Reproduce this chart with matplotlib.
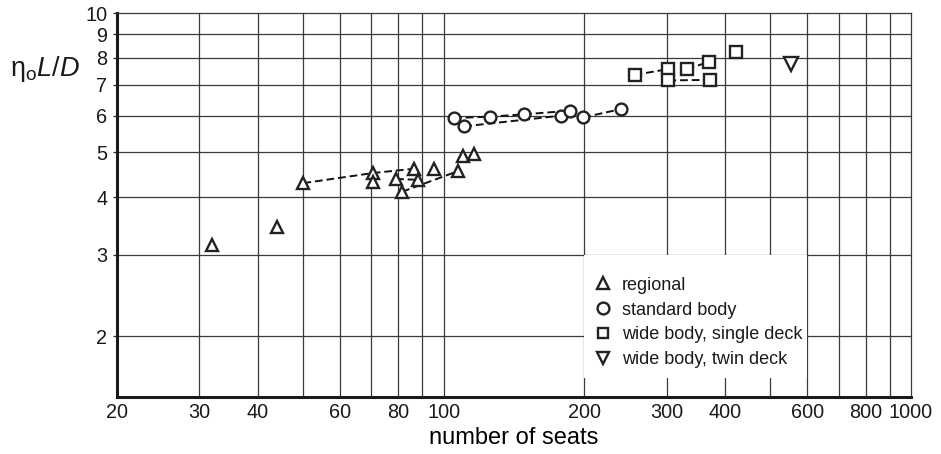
import matplotlib
matplotlib.use("Agg")
import matplotlib.pyplot as plt
from matplotlib.lines import Line2D
from matplotlib.patches import Rectangle
from matplotlib.ticker import FixedLocator, FixedFormatter, NullFormatter, NullLocator

matplotlib.rcParams.update({
    "font.family": "Liberation Sans",
    "mathtext.fontset": "custom",
    "mathtext.rm": "Liberation Sans",
    "mathtext.it": "Liberation Sans:italic",
    "text.color": "#1a1a1a",
})

# ─── data ─────────────────────────────────────────────────────────────────────
regional_seats = [31.9, 43.9, 50.1, 70.6, 70.6, 79.1, 81.5, 86.6, 88.0, 95.4, 107.1, 110.0, 116.1]
regional_ld    = [3.15, 3.45, 4.29, 4.51, 4.32, 4.38, 4.11, 4.61, 4.36, 4.61, 4.55, 4.90, 4.97]
regional_links = [[2, 3, 7], [5, 8], [6, 10]]

standard_seats = [105.3, 110.7, 125.8, 148.7, 178.3, 186.2, 199.0, 239.7]
standard_ld    = [5.93, 5.69, 5.97, 6.04, 6.00, 6.15, 5.95, 6.20]
standard_links = [[0, 2, 3, 5], [1, 4], [6, 7]]

single_seats = [256.1, 301.4, 302.6, 331.5, 370.3, 370.9, 422.9]
single_ld    = [7.35, 7.56, 7.15, 7.56, 7.85, 7.17, 8.25]
single_links = [[0, 1], [3, 4], [2, 5]]

twin_seats = [553.3]
twin_ld    = [7.76]

x_ticks = [20, 30, 40, 60, 80, 100, 200, 300, 400, 600, 800, 1000]
x_grid  = [30, 40, 50, 60, 70, 80, 90, 100, 200, 300, 400, 500, 600, 700, 800, 900]
y_ticks = [2, 3, 4, 5, 6, 7, 8, 9, 10]

EDGE = "#222222"
GRID = "#3a3a3a"

fig = plt.figure(figsize=(9.41, 4.54), dpi=100)
ax = fig.add_axes([117 / 941, 1 - 397 / 454, 794 / 941, 384 / 454])
ax.set_xscale("log")
ax.set_yscale("log")
ax.set_xlim(20, 1000)
ax.set_ylim(1.48, 10)

ax.xaxis.set_major_locator(FixedLocator(x_ticks))
ax.xaxis.set_major_formatter(FixedFormatter([str(v) for v in x_ticks]))
ax.xaxis.set_minor_locator(NullLocator())
ax.xaxis.set_minor_formatter(NullFormatter())
ax.yaxis.set_major_locator(FixedLocator(y_ticks))
ax.yaxis.set_major_formatter(FixedFormatter([str(v) for v in y_ticks]))
ax.yaxis.set_minor_locator(NullLocator())
ax.yaxis.set_minor_formatter(NullFormatter())

# grid lines
for v in x_grid:
    ax.axvline(v, color=GRID, lw=0.9, zorder=0.5)
for v in y_ticks[:-1]:
    ax.axhline(v, color=GRID, lw=0.9, zorder=0.5)

ax.tick_params(axis="x", length=0, pad=4, labelsize=14.3, labelcolor="#1a1a1a")
ax.tick_params(axis="y", length=3, width=0.9, pad=4, labelsize=14.3,
               labelcolor="#1a1a1a", color=EDGE)

for side in ("left", "bottom"):
    ax.spines[side].set_linewidth(2.2)
    ax.spines[side].set_color("#1a1a1a")
for side in ("top", "right"):
    ax.spines[side].set_linewidth(0.9)
    ax.spines[side].set_color(GRID)

# white patch behind the legend (hides the grid there)
ax.add_patch(Rectangle((200, 1.63), 400, 3 - 1.63, facecolor="white", edgecolor="none", zorder=1))


def connect(xs, ys, links):
    for grp in links:
        ax.plot([xs[i] for i in grp], [ys[i] for i in grp], color="#111111",
                lw=1.4, ls=(0, (4, 2)), zorder=2)


connect(regional_seats, regional_ld, regional_links)
connect(standard_seats, standard_ld, standard_links)
connect(single_seats, single_ld, single_links)

mk = dict(ls="none", mfc="white", mec=EDGE, mew=1.7, zorder=3)
ax.plot(regional_seats, regional_ld, marker="^", ms=9, **mk)
ax.plot(standard_seats, standard_ld, marker="o", ms=8.5, **mk)
ax.plot(single_seats, single_ld, marker="s", ms=8, **mk)
ax.plot(twin_seats, twin_ld, marker="v", ms=10, **mk)

handles = [
    Line2D([], [], marker="^", ms=9, **mk),
    Line2D([], [], marker="o", ms=8.5, **mk),
    Line2D([], [], marker="s", ms=7, **mk),
    Line2D([], [], marker="v", ms=9, **mk),
]
labels = ["regional", "standard body", "wide body, single deck", "wide body, twin deck"]
ax.legend(handles, labels, loc="upper left", bbox_to_anchor=(0.601, 0.313),
          frameon=False, fontsize=13, handlelength=1.0, handletextpad=0.55,
          borderpad=0, borderaxespad=0, labelspacing=0.43)

ax.set_xlabel("number of seats", fontsize=17, labelpad=4)
fig.text(10 / 941, 1 - 76 / 454, r"$\mathrm{\eta_o}\mathit{L/D}$", fontsize=19.5,
         ha="left", va="baseline")

fig.savefig("out.png", dpi=100)
